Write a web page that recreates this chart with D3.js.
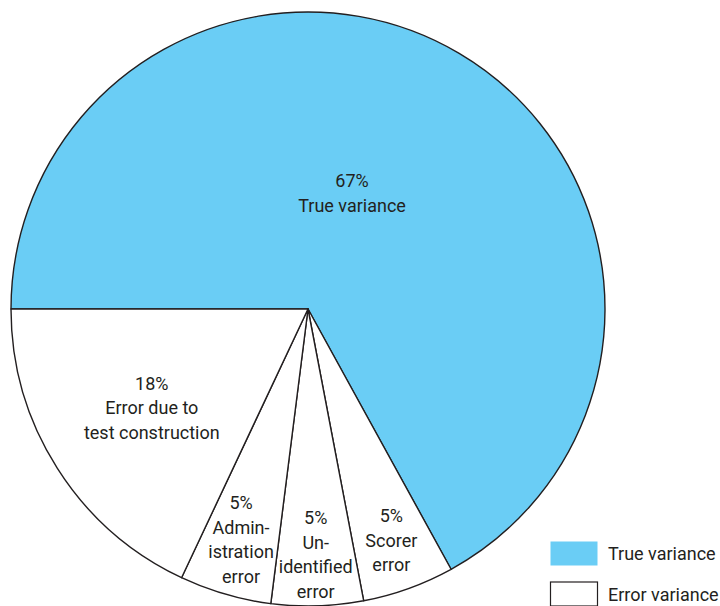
<!DOCTYPE html>
<html>
<head>
<meta charset="utf-8">
<script src="https://cdn.jsdelivr.net/npm/d3@7"></script>
<style>
  body { margin: 0; background: #fff; }
  text { font-family: Roboto, "Liberation Sans", sans-serif; fill: #231f20; }
</style>
</head>
<body>
<div id="chart"></div>
<script>
// data
var sliceNames = ["True variance", "Scorer error", "Unidentified error", "Administration error", "Test construction error"];
var sliceValues = [67, 5, 5, 5, 18];
var sliceGroups = ["true", "error", "error", "error", "error"];
var sliceLabels = [
    ["67%", "True variance"],
    ["5%", "Scorer", "error"],
    ["5%", "Un-", "identified", "error"],
    ["5%", "Admin-", "istration", "error"],
    ["18%", "Error due to", "test construction"]
];
var legendLabels = ["True variance", "Error variance"];
var legendGroups = ["true", "error"];

var width = 720, height = 606;
var cx = 308, cy = 309, radius = 297;

// label placement (radius from centre, angle shift in degrees)
var labelPos = [
    {r: 124, shift: -9.8},
    {r: 246, shift: 0},
    {r: 246, shift: 0},
    {r: 240, shift: 0},
    {r: 185, shift: 0}
];

var color = d3.scaleOrdinal().domain(["true", "error"]).range(["#6acdf5", "#ffffff"]);

var svg = d3.select("#chart").append("svg")
    .attr("width", width)
    .attr("height", height);

var g = svg.append("g")
    .attr("transform", "translate(" + cx + "," + cy + ")");

var pie = d3.pie()
    .sort(null)
    .startAngle(-Math.PI / 2)
    .endAngle(3 * Math.PI / 2)
    .value(function(d) { return d; });

var arcs = pie(sliceValues);

var arc = d3.arc().innerRadius(0).outerRadius(radius);

g.selectAll("path.slice")
    .data(arcs)
    .enter().append("path")
    .attr("class", "slice")
    .attr("d", arc)
    .attr("fill", function(d, i) { return color(sliceGroups[i]); })
    .attr("stroke", "#231f20")
    .attr("stroke-width", 1.4)
    .attr("stroke-linejoin", "round");

var lineH = 24.5;
arcs.forEach(function(d, i) {
    var p = labelPos[i];
    var a = (d.startAngle + d.endAngle) / 2 + p.shift * Math.PI / 180;
    var x = Math.sin(a) * p.r;
    var y = -Math.cos(a) * p.r;
    var lines = sliceLabels[i];
    var top = y - (lines.length - 1) * lineH / 2;
    var t = g.append("text")
        .attr("text-anchor", "middle")
        .style("font-size", "18px");
    lines.forEach(function(s, j) {
        t.append("tspan")
            .attr("x", x)
            .attr("y", top + j * lineH)
            .attr("dy", "0.35em")
            .text(s);
    });
});

// legend
var legend = svg.append("g").attr("transform", "translate(550,541)");
legendLabels.forEach(function(s, i) {
    var row = legend.append("g").attr("transform", "translate(0," + (i * 40.5) + ")");
    row.append("rect")
        .attr("x", 0.5)
        .attr("y", 0.5)
        .attr("width", 47)
        .attr("height", 24)
        .attr("fill", color(legendGroups[i]))
        .attr("stroke", legendGroups[i] === "error" ? "#231f20" : "none")
        .attr("stroke-width", 1.2);
    row.append("text")
        .attr("x", 58)
        .attr("y", 13)
        .attr("dy", "0.35em")
        .style("font-size", "18px")
        .text(s);
});
</script>
</body>
</html>
